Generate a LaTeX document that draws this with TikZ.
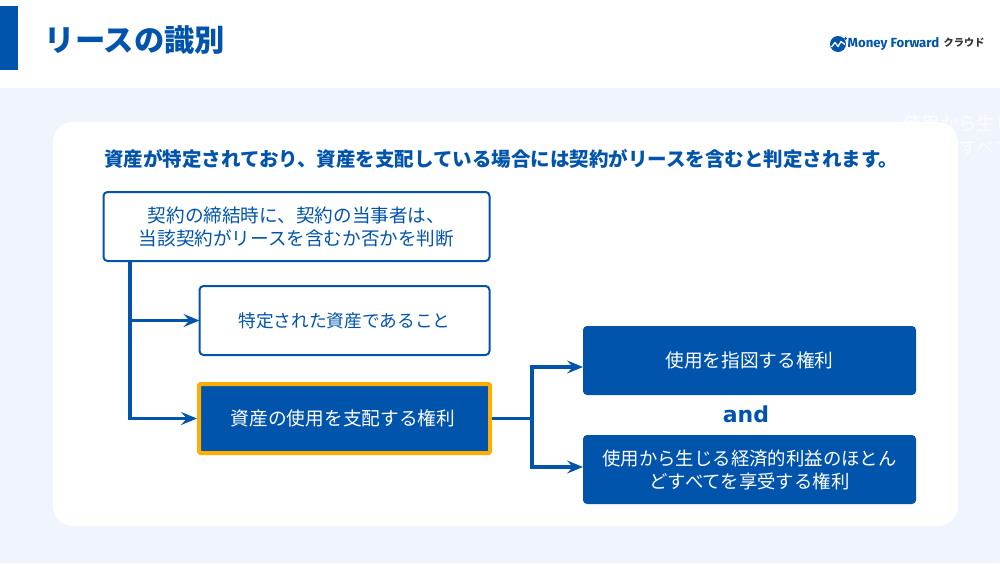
\documentclass[tikz,border=0pt]{standalone}
\usepackage{fontspec}
\setmainfont{Noto Sans CJK JP}
\newfontfamily\andfont{DejaVu Sans}
\newfontfamily\logofont{Fira Sans}
\usetikzlibrary{arrows.meta}
\definecolor{mfblue}{HTML}{0054AC}
\definecolor{mfbg}{HTML}{F0F4FC}
\definecolor{mfgold}{HTML}{FFAE00}
\definecolor{mfgray}{HTML}{333333}
\newcommand{\fsz}[2]{\fontsize{#1}{#2}\selectfont}
\tikzset{
  x=1pt,y=-1pt,
  box/.style={anchor=center,inner sep=0pt,outer sep=0pt,rounded corners=4pt,align=center,font=\fsz{18.4}{23}},
  openbox/.style={box,draw=mfblue,line width=2pt,fill=white,text=mfblue},
  filledbox/.style={box,fill=mfblue,text=white},
  hlbox/.style={box,draw=mfgold,line width=4pt,fill=mfblue,text=white,rounded corners=1.5pt},
  conn/.style={draw=mfblue,line width=3.2pt,line join=miter},
  arr/.style={conn,-{Stealth[length=16pt,width=13pt,inset=6pt]}},
}
\begin{document}
\begin{tikzpicture}
\useasboundingbox (0,0) rectangle (1000,563);
\fill[white] (0,0) rectangle (1000,563);
\fill[mfbg] (0,88) rectangle (1000,563);
\fill[mfblue] (0,6) rectangle (18,70);
\node[anchor=west,inner sep=0pt,text=mfblue,font=\fsz{30.3}{32}\bfseries] (title) at (44.5,40.5) {リースの識別};
% ghost text
\begin{scope}
\clip (0,0) rectangle (1000,563);
\node[anchor=west,inner sep=0pt,text=white,font=\fsz{18.4}{23},opacity=.75] (ghostA) at (903,124) {使用から生じる経済的};
\node[anchor=west,inner sep=0pt,text=white,font=\fsz{18.4}{23},opacity=.75] (ghostB) at (941,147) {どすべてを};
\end{scope}
\fill[white,rounded corners=20pt] (53,122) rectangle (958,526);
% logo
\fill[mfblue] (838,44) circle (8);
\draw[white,line width=1.3pt,line join=round] (831.5,47) -- (835,42.5) -- (838,46.5) -- (841,41.5) -- (845,44.5);
\fill[mfblue] (845.5,38.5) circle (1.5);
\node[anchor=west,inner sep=0pt,text=mfblue,font=\logofont\fsz{13.2}{16}\bfseries] (logoA) at (847.5,44) {Money Forward};
\node[anchor=west,inner sep=0pt,text=mfgray,font=\fsz{10.2}{12}\bfseries] (logoB) at (943.5,43) {クラウド};
% heading
\node[anchor=west,inner sep=0pt,text=mfblue,font=\fsz{19.5}{22}\bfseries] (head) at (104,159) {資産が特定されており、資産を支配している場合には契約がリースを含むと判定されます。};
% boxes
\node[openbox,minimum width=386pt,minimum height=69pt,font=\fsz{18.6}{23}] (top) at (296.5,226.5) {契約の締結時に、契約の当事者は、\\当該契約がリースを含むか否かを判断};
\node[openbox,minimum width=290pt,minimum height=69pt,font=\fsz{17.7}{23}] (plain) at (344.5,320.5) {特定された資産であること};
\node[hlbox,minimum width=291pt,minimum height=69pt,font=\fsz{18.7}{23}] (hl) at (344.5,418.5) {資産の使用を支配する権利\hspace*{3pt}};
\node[filledbox,minimum width=333pt,minimum height=69pt,font=\fsz{18.7}{23}] (dir) at (749.5,360.5) {使用を指図する権利};
\node[filledbox,minimum width=333pt,minimum height=69pt] (ben) at (749.5,469.5) {使用から生じる経済的利益のほとん\\どすべてを享受する権利};
\node[inner sep=0pt,text=mfblue,font=\andfont\fsz{22}{24}\bfseries] (and) at (746,414.5) {and};
% connectors
\coordinate (trunk) at (130,300);
\coordinate (fork) at (532,300);
\path[conn] (top.south -| trunk) -- (trunk |- hl.west);
\path[arr] (trunk |- plain.west) -- (plain.west);
\path[arr] ([xshift=-1.6pt]trunk |- hl.west) -- ([xshift=-2pt]hl.west);
\path[conn] ([xshift=2pt]hl.east) -- (fork |- hl.east);
\coordinate (dirin) at ([yshift=-6.5pt]dir.west);
\coordinate (benin) at ([yshift=2.5pt]ben.west);
\path[arr] (fork |- hl.east) -- (fork |- dirin) -- (dirin);
\path[arr] (fork |- hl.east) -- (fork |- benin) -- (benin);
\end{tikzpicture}
\end{document}
